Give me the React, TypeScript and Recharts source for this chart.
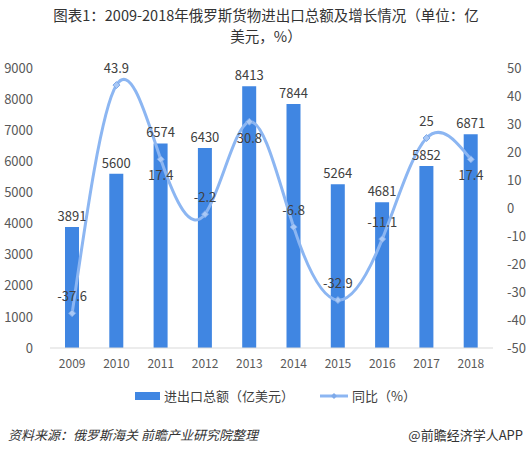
import { ComposedChart, Bar, Line, XAxis, YAxis, Legend, LabelList } from 'recharts';

const years = ['2009', '2010', '2011', '2012', '2013', '2014', '2015', '2016', '2017', '2018'];
const tradeTotal = [3891, 5600, 6574, 6430, 8413, 7844, 5264, 4681, 5852, 6871];
const yoyGrowth = [-37.6, 43.9, 17.4, -2.2, 30.8, -6.8, -32.9, -11.1, 25, 17.4];
const leftTicks = [0, 1000, 2000, 3000, 4000, 5000, 6000, 7000, 8000, 9000];
const rightTicks = [-50, -40, -30, -20, -10, 0, 10, 20, 30, 40, 50];
// which side of the point each growth label sits on
const growthLabelSide = ['top', 'top', 'bottom', 'top', 'bottom', 'top', 'top', 'top', 'top', 'bottom'];

const data = years.map((year, i) => ({ year, total: tradeTotal[i], yoy: yoyGrowth[i] }));

const FONT = '"Noto Sans CJK SC", "Noto Sans", sans-serif';
const BAR_COLOR = '#4086e2';
const LINE_COLOR = '#8cb6f2';
const TEXT = '#404040';

const Diamond = (props: any) => {
  const { cx, cy } = props;
  if (cx == null || cy == null) return null;
  const r = 3.5;
  return (
    <path
      d={`M${cx},${cy - r}L${cx + r},${cy}L${cx},${cy + r}L${cx - r},${cy}Z`}
      fill="#a9c8f5"
      stroke="#7eaaea"
      strokeWidth={1}
    />
  );
};

const GrowthLabel = (props: any) => {
  const { x, y, value, index } = props;
  const below = growthLabelSide[index] === 'bottom';
  return (
    <text
      x={x}
      y={below ? y + 21 : y - 12}
      textAnchor="middle"
      fontSize={13}
      fontFamily={FONT}
      fill={TEXT}
    >
      {value}
    </text>
  );
};

const LegendContent = () => (
  <div
    style={{
      display: 'flex',
      justifyContent: 'center',
      alignItems: 'center',
      fontFamily: FONT,
      fontSize: 13,
      color: TEXT,
      paddingLeft: 20,
    }}
  >
    <span style={{ display: 'inline-block', width: 25, height: 8, background: BAR_COLOR, marginRight: 4 }} />
    <span style={{ marginRight: 26 }}>进出口总额（亿美元）</span>
    <svg width={28} height={10} style={{ marginRight: 4 }}>
      <line x1={0} y1={5} x2={28} y2={5} stroke={LINE_COLOR} strokeWidth={3} />
      <path d="M14,2L17,5L14,8L11,5Z" fill="#7eaaea" />
    </svg>
    <span>同比（%）</span>
  </div>
);

const App = () => {
  return (
    <div style={{ position: 'absolute', left: 0, top: 0, width: 531, height: 453, background: '#fff', fontFamily: FONT }}>
      <div
        style={{
          position: 'absolute',
          top: 4,
          left: 20,
          width: 492,
          textAlign: 'center',
          fontSize: 14.5,
          lineHeight: '21px',
          color: '#333',
        }}
      >
        <div>图表1：2009-2018年俄罗斯货物进出口总额及增长情况（单位：亿</div>
        <div>美元，%）</div>
      </div>

      <ComposedChart
        width={531}
        height={453}
        data={data}
        margin={{ top: 68, right: 0, bottom: 75, left: 0 }}
        style={{ position: 'absolute', left: 0, top: 0 }}
      >
        <XAxis
          dataKey="year"
          tickLine={false}
          axisLine={{ stroke: '#d9d9d9' }}
          tick={{ fontSize: 12, fill: '#595959', fontFamily: FONT }}
          tickMargin={5}
          height={30}
          interval={0}
        />
        <YAxis
          yAxisId="left"
          domain={[0, 9000]}
          ticks={leftTicks}
          axisLine={false}
          tickLine={false}
          tickMargin={11}
          width={50}
          tick={{ fontSize: 13, fill: '#595959', fontFamily: FONT }}
        />
        <YAxis
          yAxisId="right"
          orientation="right"
          domain={[-50, 50]}
          ticks={rightTicks}
          axisLine={false}
          tickLine={false}
          tickMargin={8}
          width={38}
          tick={{ fontSize: 13, fill: '#595959', fontFamily: FONT, textAnchor: 'start' }}
        />
        <Legend
          verticalAlign="middle"
          align="center"
          layout="horizontal"
          wrapperStyle={{ top: 386, left: 0, width: 531 }}
          content={<LegendContent />}
        />
        <Bar yAxisId="left" dataKey="total" fill={BAR_COLOR} barSize={14} isAnimationActive={false}>
          <LabelList dataKey="total" position="top" offset={6} style={{ fontSize: 13, fill: TEXT, fontFamily: FONT }} />
        </Bar>
        <Line
          yAxisId="right"
          dataKey="yoy"
          type="natural"
          stroke={LINE_COLOR}
          strokeWidth={3}
          dot={<Diamond />}
          activeDot={false}
          isAnimationActive={false}
        >
          <LabelList dataKey="yoy" content={<GrowthLabel />} />
        </Line>
      </ComposedChart>

      <div
        style={{
          position: 'absolute',
          top: 425,
          left: 8,
          fontSize: 13,
          fontStyle: 'italic',
          color: '#333',
        }}
      >
        资料来源：俄罗斯海关 前瞻产业研究院整理
      </div>
      <div
        style={{
          position: 'absolute',
          top: 425,
          right: 8,
          fontSize: 13,
          color: '#333',
        }}
      >
        @前瞻经济学人APP
      </div>
    </div>
  );
};

export default App;
